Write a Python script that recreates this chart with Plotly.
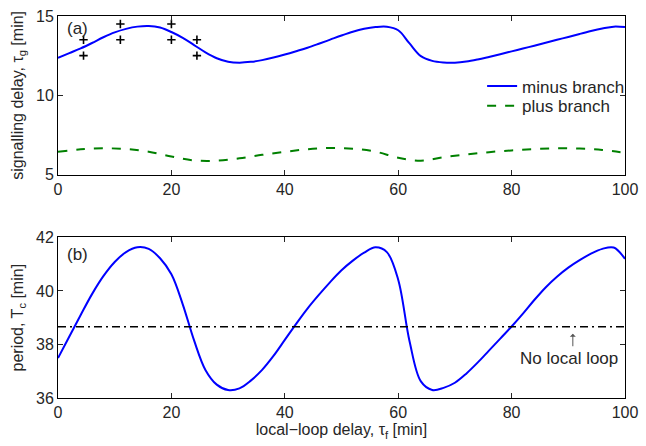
import plotly.graph_objects as go

# ---- data ----
tau_f = list(range(0, 101, 2))

minus_y = [12.36, 12.66, 12.96, 13.3, 13.66, 13.97, 14.19, 14.33, 14.37, 14.27,
           13.99, 13.62, 13.17, 12.71, 12.34, 12.12, 12.06, 12.11, 12.22, 12.38,
           12.57, 12.78, 13.0, 13.25, 13.51, 13.77, 14.01, 14.19, 14.3, 14.32,
           14.1, 13.27, 12.47, 12.17, 12.07, 12.06, 12.13, 12.26, 12.42, 12.59,
           12.77, 12.95, 13.13, 13.31, 13.5, 13.68, 13.87, 14.05, 14.21, 14.33,
           14.3]

plus_x = list(range(0, 101, 4))
plus_y = [6.44, 6.6, 6.66, 6.62, 6.45, 6.15, 5.9, 5.88, 6.03, 6.25, 6.44, 6.6, 6.68,
          6.64, 6.45, 6.07, 5.88, 6.1, 6.27, 6.42, 6.53, 6.61, 6.66, 6.65, 6.56, 6.38]

cross_x = [4.5, 4.5, 11, 11, 20, 20, 24.5, 24.5]
cross_y = [13.5, 12.5, 14.5, 13.5, 14.5, 13.5, 13.5, 12.5]

period_y = [37.49, 38.3, 39.1, 39.88, 40.55, 41.08, 41.45, 41.63, 41.57, 41.22,
            40.62, 39.5, 38.15, 37.05, 36.5, 36.3, 36.36, 36.65, 37.05, 37.57,
            38.17, 38.77, 39.34, 39.85, 40.33, 40.77, 41.13, 41.43, 41.63, 41.45,
            40.42, 38.12, 36.62, 36.3, 36.38, 36.57, 36.91, 37.32, 37.77, 38.22,
            38.67, 39.15, 39.66, 40.13, 40.53, 40.87, 41.15, 41.39, 41.57, 41.62,
            41.2]

no_local_loop = 38.66
x_range = [0, 100]
x_ticks = [0, 20, 40, 60, 80, 100]
ya_ticks = [5, 10, 15]
yb_ticks = [36, 38, 40, 42]

FONT = "Liberation Sans, Arial, sans-serif"
TXT = "#262626"

fig = go.Figure()
fig.add_trace(go.Scatter(x=tau_f, y=minus_y, mode="lines", name="minus branch", legend="legend",
                         line=dict(color="#0000ff", width=2, shape="spline"),
                         xaxis="x", yaxis="y"))
fig.add_trace(go.Scatter(x=plus_x, y=plus_y, mode="lines", name="plus branch", legend="legend2",
                         line=dict(color="#008000", width=2, dash="dash", shape="spline"),
                         xaxis="x", yaxis="y"))
fig.add_trace(go.Scatter(x=cross_x, y=cross_y, mode="markers", showlegend=False,
                         marker=dict(symbol="cross-thin", size=6, line=dict(color="black", width=1.6)),
                         xaxis="x", yaxis="y"))
fig.add_trace(go.Scatter(x=tau_f, y=period_y, mode="lines", showlegend=False,
                         line=dict(color="#0000ff", width=2, shape="spline"),
                         xaxis="x2", yaxis="y2"))
fig.add_trace(go.Scatter(x=x_range, y=[no_local_loop, no_local_loop], mode="lines", showlegend=False,
                         line=dict(color="black", width=1.5, dash="8px,4px,2px,4px"),
                         xaxis="x2", yaxis="y2"))

axis_common = dict(showline=True, linecolor="black", linewidth=1, mirror="ticks", ticks="inside",
                   ticklen=5, tickcolor="#262626", showgrid=False, zeroline=False,
                   tickfont=dict(size=16, color=TXT, family=FONT))

leg_common = dict(xanchor="left", yanchor="middle", bgcolor="rgba(0,0,0,0)",
                  font=dict(size=17, color=TXT, family=FONT))

fig.update_layout(
    width=646, height=446,
    margin=dict(l=58, r=14, t=8, b=48),
    paper_bgcolor="white", plot_bgcolor="white",
    font=dict(family=FONT, size=16, color=TXT),
    xaxis=dict(domain=[0, 1], range=x_range, tickvals=x_ticks, anchor="y", **axis_common),
    yaxis=dict(domain=[0.5846, 1], range=[5, 15], tickvals=ya_ticks, anchor="x",
               title=dict(text="signalling delay, τ<sub>g</sub> [min]", font=dict(size=16), standoff=8),
               **axis_common),
    xaxis2=dict(domain=[0, 1], range=x_range, tickvals=x_ticks, anchor="y2",
                title=dict(text="local−loop delay, τ<sub>f</sub> [min]", font=dict(size=16), standoff=2),
                **axis_common),
    yaxis2=dict(domain=[0, 0.4205], range=[36, 42], tickvals=yb_ticks, anchor="x2",
                title=dict(text="period, T<sub>c</sub> [min]", font=dict(size=16), standoff=8),
                **axis_common),
    legend=dict(x=0.748, y=(398 - 80) / 390, **leg_common),
    legend2=dict(x=0.748, y=(398 - 100) / 390, **leg_common),
    showlegend=True,
)

fig.add_annotation(x=1.2, y=14.2, xref="x", yref="y", text="(a)", showarrow=False,
                   xanchor="left", yanchor="middle", font=dict(size=17, color=TXT))
fig.add_annotation(x=1.2, y=41.35, xref="x2", yref="y2", text="(b)", showarrow=False,
                   xanchor="left", yanchor="middle", font=dict(size=17, color=TXT))
fig.add_annotation(x=90.8, y=38.4, xref="x2", yref="y2", text="", showarrow=True,
                   ax=0, ay=14, arrowhead=1, arrowsize=1, arrowwidth=1, arrowcolor="#555555")
fig.add_annotation(x=90.2, y=37.48, xref="x2", yref="y2", text="No local loop", showarrow=False,
                   xanchor="center", yanchor="middle", font=dict(size=17, color=TXT))

fig.write_html("out.html")
